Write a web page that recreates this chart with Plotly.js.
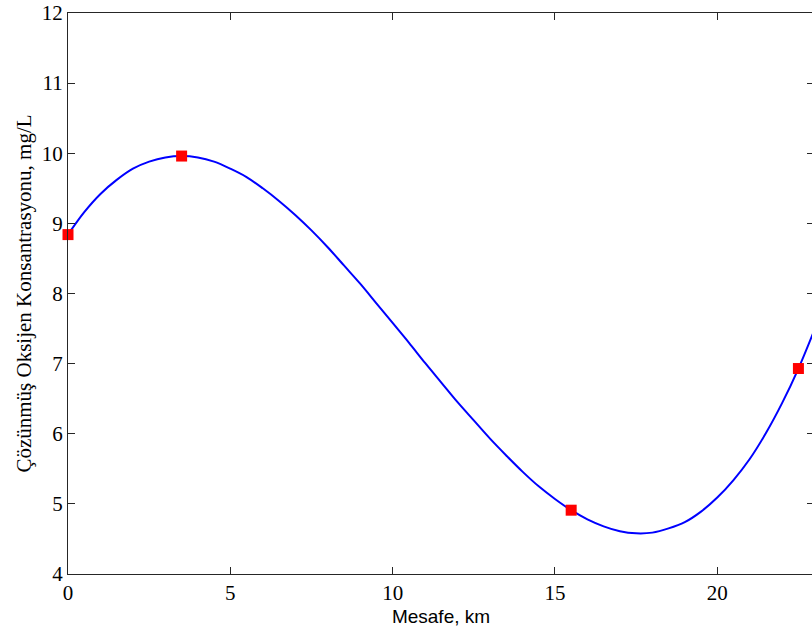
<!DOCTYPE html>
<html>
<head>
<meta charset="utf-8">
<script src="https://cdn.plot.ly/plotly-3.0.1.min.js"></script>
<style>html,body{margin:0;padding:0;overflow:hidden;background:#fff;}</style>
</head>
<body>
<div id="chart"></div>
<script>
// Measured points (km, mg/L)
const pointX = [0, 3.5, 15.5, 22.5];
const pointY = [8.84, 9.96, 4.91, 6.93];

// Fitted curve (every 0.5 km)
const curveX = [0, 0.5, 1, 1.5, 2, 2.5, 3, 3.5, 4, 4.5, 5, 5.5, 6, 6.5, 7, 7.5, 8, 8.5, 9, 9.5,
                10, 10.5, 11, 11.5, 12, 12.5, 13, 13.5, 14, 14.5, 15, 15.5, 16, 16.5, 17, 17.5,
                18, 18.5, 19, 19.5, 20, 20.5, 21, 21.5, 22, 22.5, 23];
const curveY = [8.84, 9.16, 9.42, 9.62, 9.78, 9.88, 9.94, 9.96, 9.94, 9.88, 9.78, 9.66, 9.50, 9.32, 9.12, 8.90, 8.66, 8.40, 8.14, 7.86,
                7.58, 7.30, 7.01, 6.73, 6.45, 6.19, 5.93, 5.69, 5.46, 5.25, 5.07, 4.91, 4.78, 4.68, 4.61, 4.58,
                4.59, 4.65, 4.74, 4.89, 5.09, 5.34, 5.64, 6.01, 6.44, 6.93, 7.49];

const xTicks = [0, 5, 10, 15, 20];
const yTicks = [4, 5, 6, 7, 8, 9, 10, 11, 12];

const traces = [
  {x: curveX, y: curveY, type: 'scatter', mode: 'lines',
   line: {color: '#0000ff', width: 2, shape: 'spline', smoothing: 1},
   hoverinfo: 'skip', showlegend: false},
  {x: pointX, y: pointY, type: 'scatter', mode: 'markers', cliponaxis: false,
   marker: {symbol: 'square', color: '#ff0000', size: 11},
   showlegend: false}
];

const axisCommon = {
  showgrid: false, zeroline: false, showline: true, linecolor: '#262626', linewidth: 1,
  mirror: 'ticks', ticks: 'inside', ticklen: 7, tickcolor: '#262626', tickwidth: 1,
  tickfont: {family: 'Liberation Serif, Times New Roman, serif', size: 21, color: '#000'},
  automargin: false
};

const layout = {
  width: 816, height: 637,
  margin: {l: 68, r: 2, t: 13, b: 63},
  paper_bgcolor: '#fff', plot_bgcolor: '#fff',
  xaxis: Object.assign({}, axisCommon, {
    range: [0, 22.98], tickvals: xTicks, ticktext: xTicks.map(String),
    title: {text: 'Mesafe, km', font: {family: 'Liberation Sans, Arial, sans-serif', size: 19, color: '#000'}, standoff: 5}
  }),
  yaxis: Object.assign({}, axisCommon, {
    range: [4, 12], tickvals: yTicks, ticktext: yTicks.map(String),
    title: {text: 'Çözünmüş Oksijen Konsantrasyonu, mg/L', font: {family: 'Liberation Serif, Times New Roman, serif', size: 21, color: '#000'}, standoff: 4}
  })
};

Plotly.newPlot('chart', traces, layout, {displayModeBar: false, staticPlot: true});
</script>
</body>
</html>
